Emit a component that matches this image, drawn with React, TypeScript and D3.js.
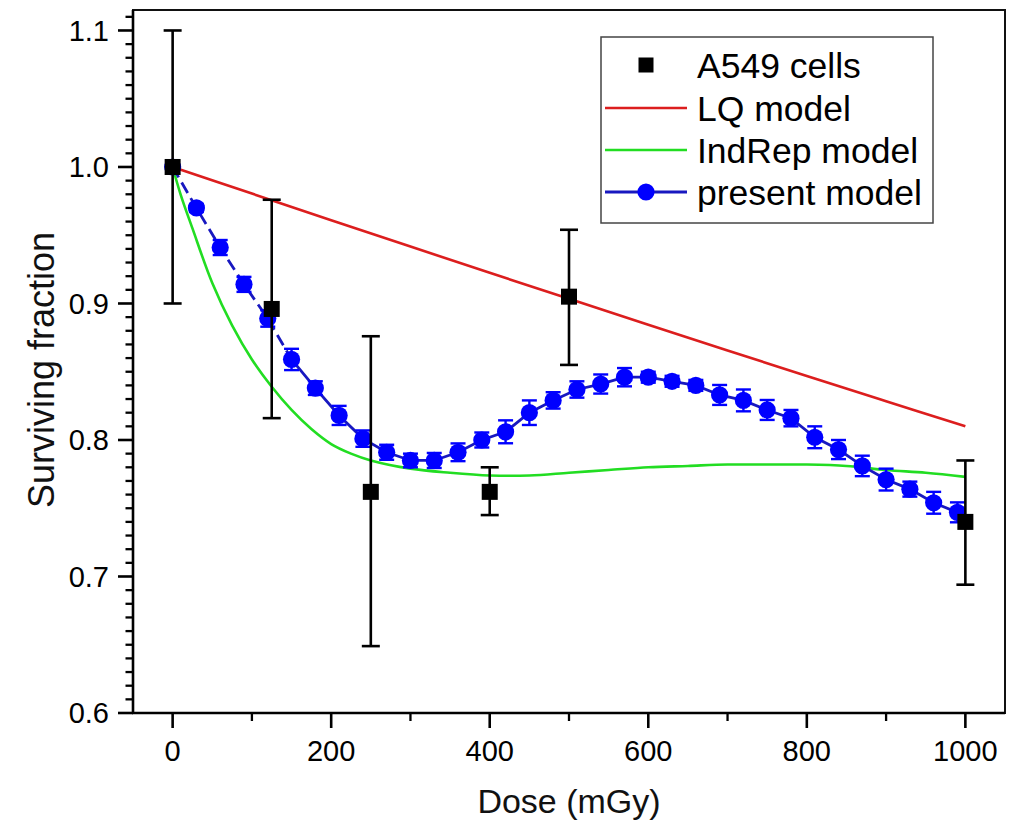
import React from "react";
import * as d3 from "d3";

// A549 cells (experimental)
const cellDose = [0, 125, 250, 400, 500, 1000];
const cellSF = [1.0, 0.896, 0.762, 0.762, 0.905, 0.74];
const cellErrUp = [0.1, 0.08, 0.114, 0.018, 0.049, 0.045];
const cellErrDown = [0.1, 0.08, 0.113, 0.017, 0.05, 0.046];

// LQ model
const lqDose = [0, 100, 200, 300, 400, 500, 600, 700, 800, 900, 1000];
const lqSF = [1.0, 0.9805, 0.961, 0.9417, 0.9225, 0.9034, 0.8844, 0.8656, 0.8469, 0.8284, 0.81];

// IndRep model
const indRepDose = [0, 10, 25, 50, 75, 100, 125, 150, 175, 200, 225, 250, 300, 350, 400, 450, 500, 550, 600, 650, 700, 750, 800, 850, 900, 950, 1000];
const indRepSF = [1.0, 0.98, 0.955, 0.915, 0.884, 0.859, 0.839, 0.822, 0.808, 0.797, 0.79, 0.785, 0.779, 0.776, 0.774, 0.774, 0.776, 0.778, 0.78, 0.781, 0.782, 0.782, 0.782, 0.781, 0.778, 0.776, 0.773];

// present model
const presentDose = [0, 30, 60, 90, 120, 150, 180, 210, 240, 270, 300, 330, 360, 390, 420, 450, 480, 510, 540, 570, 600, 630, 660, 690, 720, 750, 780, 810, 840, 870, 900, 930, 960, 990];
const presentSF = [1.0, 0.97, 0.941, 0.914, 0.889, 0.859, 0.838, 0.818, 0.801, 0.791, 0.785, 0.785, 0.791, 0.8, 0.806, 0.82, 0.829, 0.837, 0.841, 0.846, 0.846, 0.843, 0.84, 0.833, 0.829, 0.822, 0.816, 0.802, 0.793, 0.781, 0.771, 0.764, 0.754, 0.747];
const presentErr = [0.0, 0.003, 0.0055, 0.0055, 0.006, 0.0078, 0.005, 0.007, 0.006, 0.0055, 0.005, 0.0055, 0.0065, 0.0055, 0.0084, 0.009, 0.006, 0.006, 0.007, 0.0067, 0.004, 0.004, 0.004, 0.0073, 0.008, 0.0073, 0.006, 0.008, 0.007, 0.0075, 0.008, 0.0055, 0.008, 0.0073];
const dashedUntil = 150;

const xTicks = [0, 200, 400, 600, 800, 1000];
const xMinorTicks = [100, 300, 500, 700, 900];
const yTicks = [0.6, 0.7, 0.8, 0.9, 1.0, 1.1];
const yTickLabels = ["0.6", "0.7", "0.8", "0.9", "1.0", "1.1"];

const legendLabels = ["A549 cells", "LQ model", "IndRep model", "present model"];

const RED = "#dc1e1e";
const GREEN = "#22dd22";
const BLUE = "#0000ff";
const BLUE_LINE = "#1818c0";
const FONT = "Arial, 'Liberation Sans', sans-serif";

export default function App() {
  const W = 1020, H = 823;
  const L = 133, R = 1005, T = 10, B = 713;
  const x = d3.scaleLinear().domain([-50, 1050]).range([L, R]);
  const y = d3.scaleLinear().domain([0.6, 1.115]).range([B, T]);

  const yMinor: number[] = [];
  for (let i = 60; i <= 111; i++) {
    if (i % 10 !== 0) yMinor.push(i / 100);
  }

  const lineGen = d3
    .line<[number, number]>()
    .x((d) => x(d[0]))
    .y((d) => y(d[1]));
  const smoothGen = d3
    .line<[number, number]>()
    .x((d) => x(d[0]))
    .y((d) => y(d[1]))
    .curve(d3.curveCatmullRom.alpha(0.5));

  const lqPts = lqDose.map((d, i) => [d, lqSF[i]] as [number, number]);
  const irPts = indRepDose.map((d, i) => [d, indRepSF[i]] as [number, number]);
  const prPts = presentDose.map((d, i) => [d, presentSF[i]] as [number, number]);
  const prDashed = prPts.filter((p) => p[0] <= dashedUntil);
  const prSolid = prPts.filter((p) => p[0] >= dashedUntil);

  const capB = 7.5;
  const capK = 9;
  const legX = 601, legY = 37, legW = 332, legH = 186;
  const rowY = [65, 108, 150, 192];

  return (
    <svg
      width={W}
      height={H}
      style={{ position: "absolute", left: 0, top: 0, background: "#fff" }}
      fontFamily={FONT}
    >
      <rect x={0} y={0} width={W} height={H} fill="#fff" />
      <defs>
        <clipPath id="plotclip">
          <rect x={L} y={T} width={R - L} height={B - T} />
        </clipPath>
      </defs>

      {/* curves */}
      <g clipPath="url(#plotclip)">
        <path d={smoothGen(irPts) || ""} fill="none" stroke={GREEN} strokeWidth={2.6} />
        <path d={smoothGen(lqPts) || ""} fill="none" stroke={RED} strokeWidth={2.6} />
        <path d={lineGen(prDashed) || ""} fill="none" stroke={BLUE_LINE} strokeWidth={2.8} strokeDasharray="12,6" />
        <path d={lineGen(prSolid) || ""} fill="none" stroke={BLUE_LINE} strokeWidth={2.8} />
        {presentDose.map((d, i) =>
          presentErr[i] > 0 ? (
            <g key={"pe" + i} stroke={BLUE} strokeWidth={2.4}>
              <line x1={x(d)} x2={x(d)} y1={y(presentSF[i] + presentErr[i])} y2={y(presentSF[i] - presentErr[i])} />
              <line x1={x(d) - capB} x2={x(d) + capB} y1={y(presentSF[i] + presentErr[i])} y2={y(presentSF[i] + presentErr[i])} />
              <line x1={x(d) - capB} x2={x(d) + capB} y1={y(presentSF[i] - presentErr[i])} y2={y(presentSF[i] - presentErr[i])} />
            </g>
          ) : null
        )}
        {presentDose.map((d, i) => (
          <circle key={"pc" + i} cx={x(d)} cy={y(presentSF[i])} r={8.6} fill={BLUE} />
        ))}
        {cellDose.map((d, i) => (
          <g key={"ce" + i} stroke="#000" strokeWidth={2.6}>
            <line x1={x(d)} x2={x(d)} y1={y(cellSF[i] + cellErrUp[i])} y2={y(cellSF[i] - cellErrDown[i])} />
            <line x1={x(d) - capK} x2={x(d) + capK} y1={y(cellSF[i] + cellErrUp[i])} y2={y(cellSF[i] + cellErrUp[i])} />
            <line x1={x(d) - capK} x2={x(d) + capK} y1={y(cellSF[i] - cellErrDown[i])} y2={y(cellSF[i] - cellErrDown[i])} />
          </g>
        ))}
        {cellDose.map((d, i) => (
          <rect key={"cs" + i} x={x(d) - 8} y={y(cellSF[i]) - 8} width={16} height={16} fill="#000" />
        ))}
      </g>

      {/* frame */}
      <rect x={L} y={T} width={R - L} height={B - T} fill="none" stroke="#111" strokeWidth={2} />
      <line x1={L} x2={L} y1={T} y2={B + 1} stroke="#000" strokeWidth={2.6} />
      <line x1={L - 1} x2={R} y1={B} y2={B} stroke="#000" strokeWidth={2.6} />

      {/* y ticks */}
      {yTicks.map((t, i) => (
        <g key={"yt" + i}>
          <line x1={L - 15} x2={L} y1={y(t)} y2={y(t)} stroke="#000" strokeWidth={2.6} />
          <text x={L - 24} y={y(t)} dy="0.36em" textAnchor="end" fontSize={29} fill="#000">
            {yTickLabels[i]}
          </text>
        </g>
      ))}
      {yMinor.map((t, i) => (
        <line key={"ym" + i} x1={L - 7.5} x2={L} y1={y(t)} y2={y(t)} stroke="#000" strokeWidth={2.3} />
      ))}

      {/* x ticks */}
      {xTicks.map((t, i) => (
        <g key={"xt" + i}>
          <line x1={x(t)} x2={x(t)} y1={B} y2={B + 15} stroke="#000" strokeWidth={2.6} />
          <text x={x(t)} y={761} textAnchor="middle" fontSize={29} fill="#000">
            {String(t)}
          </text>
        </g>
      ))}
      {xMinorTicks.map((t, i) => (
        <line key={"xm" + i} x1={x(t)} x2={x(t)} y1={B} y2={B + 8} stroke="#000" strokeWidth={2.3} />
      ))}

      {/* axis titles */}
      <text x={(L + R) / 2} y={813} textAnchor="middle" fontSize={34} fill="#111">
        Dose (mGy)
      </text>
      <text
        transform={`translate(54, 370) rotate(-90)`}
        textAnchor="middle"
        fontSize={36}
        fill="#111"
      >
        Surviving fraction
      </text>

      {/* legend */}
      <rect x={legX} y={legY} width={legW} height={legH} fill="#fff" stroke="#444" strokeWidth={1.5} />
      <rect x={646 - 7.5} y={rowY[0] - 7.5} width={15} height={15} fill="#000" />
      <line x1={605} x2={687} y1={rowY[1]} y2={rowY[1]} stroke={RED} strokeWidth={2.6} />
      <line x1={605} x2={687} y1={rowY[2]} y2={rowY[2]} stroke={GREEN} strokeWidth={2.6} />
      <line x1={605} x2={687} y1={rowY[3]} y2={rowY[3]} stroke={BLUE_LINE} strokeWidth={2.8} />
      <circle cx={646} cy={rowY[3]} r={8.6} fill={BLUE} />
      {legendLabels.map((s, i) => (
        <text key={"lt" + i} x={697} y={rowY[i]} dy="0.36em" fontSize={35.5} fill="#000">
          {s}
        </text>
      ))}
    </svg>
  );
}
